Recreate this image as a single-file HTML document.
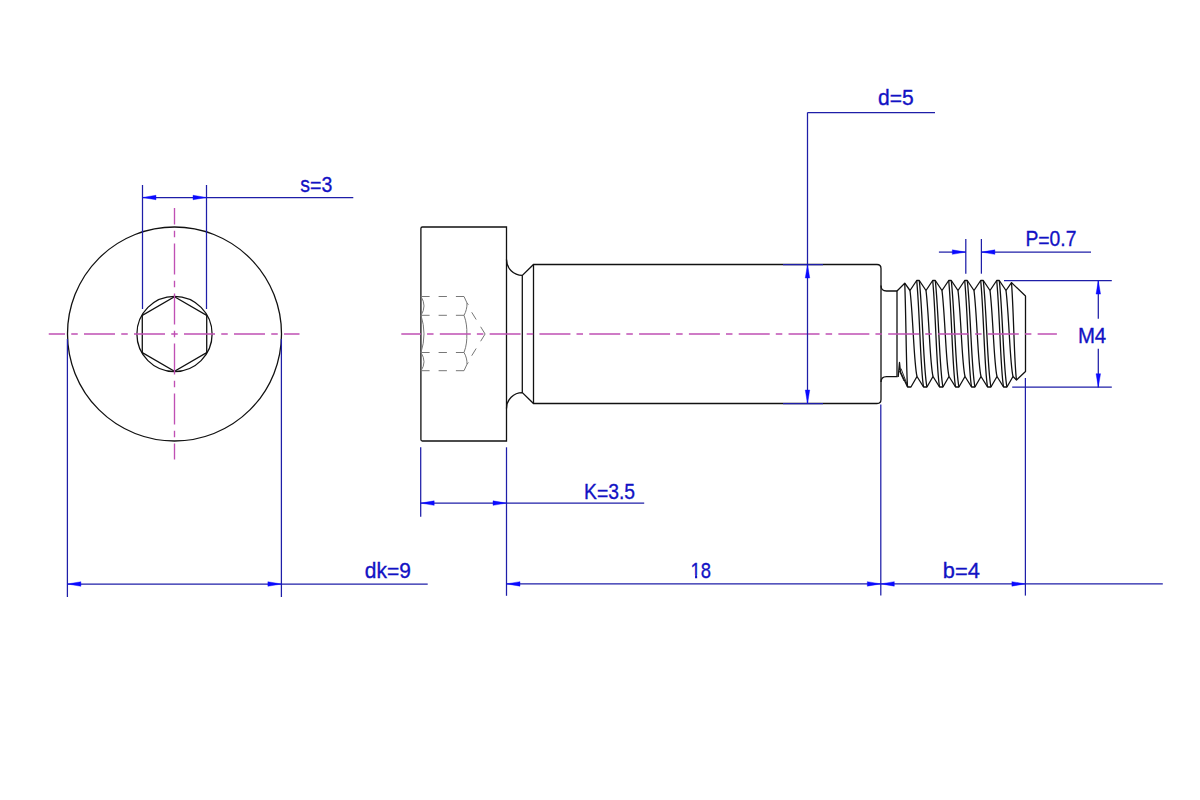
<!DOCTYPE html>
<html><head><meta charset="utf-8"><title>Shoulder Screw Drawing</title>
<style>
html,body{margin:0;padding:0;background:#fff;}
body{width:1200px;height:800px;overflow:hidden;}
svg{display:block;font-family:"Liberation Sans",sans-serif;}
</style></head>
<body>
<svg width="1200" height="800" viewBox="0 0 1200 800">
<rect width="1200" height="800" fill="#fff"/>
<circle cx="174.5" cy="334.0" r="107" fill="none" stroke="#111" stroke-width="1.3"/>
<circle cx="174.5" cy="334.0" r="37.6" fill="none" stroke="#111" stroke-width="1.3"/>
<polygon points="174.50,296.80 206.72,315.40 206.72,352.60 174.50,371.20 142.28,352.60 142.28,315.40" fill="none" stroke="#111" stroke-width="1.3"/>
<path d="M48.75 334.0H65.00 M71.25 334.0H77.75 M84.00 334.0H115.00 M121.25 334.0H127.75 M134.00 334.0H165.00 M171.25 334.0H177.75 M184.00 334.0H215.00 M221.25 334.0H227.75 M234.00 334.0H265.00 M271.25 334.0H277.75 M284.00 334.0H299.50" stroke="#c050b4" stroke-width="1.35" fill="none" />
<path d="M174.5 208.10V224.50 M174.5 230.75V237.25 M174.5 243.50V274.50 M174.5 280.75V287.25 M174.5 293.50V324.50 M174.5 330.75V337.25 M174.5 343.50V374.50 M174.5 380.75V387.25 M174.5 393.50V424.50 M174.5 430.75V437.25 M174.5 443.50V459.40" stroke="#c050b4" stroke-width="1.35" fill="none" />
<line x1="142.5" y1="185" x2="142.5" y2="309" stroke="#1e1ea8" stroke-width="1.25" />
<line x1="206.5" y1="185" x2="206.5" y2="309" stroke="#1e1ea8" stroke-width="1.25" />
<line x1="142.5" y1="197.5" x2="353.3" y2="197.5" stroke="#1e1ea8" stroke-width="1.25" />
<polygon points="142.50,197.50 156.00,195.25 156.00,199.75" fill="#0a0aff" stroke="#0a0aff" stroke-width="0.4"/>
<polygon points="206.50,197.50 193.00,195.25 193.00,199.75" fill="#0a0aff" stroke="#0a0aff" stroke-width="0.4"/>
<text x="300.3" y="191.5" font-size="22.6" fill="#1212c4" stroke="#1212c4" stroke-width="0.35" textLength="32" lengthAdjust="spacingAndGlyphs">s<tspan dy="1.6">=</tspan><tspan dy="-1.6">3</tspan></text>
<line x1="67.4" y1="339" x2="67.4" y2="597" stroke="#1e1ea8" stroke-width="1.25" />
<line x1="281.4" y1="339" x2="281.4" y2="597" stroke="#1e1ea8" stroke-width="1.25" />
<line x1="67.4" y1="584" x2="427.7" y2="584" stroke="#1e1ea8" stroke-width="1.25" />
<polygon points="67.40,584.00 80.90,581.75 80.90,586.25" fill="#0a0aff" stroke="#0a0aff" stroke-width="0.4"/>
<polygon points="281.40,584.00 267.90,581.75 267.90,586.25" fill="#0a0aff" stroke="#0a0aff" stroke-width="0.4"/>
<text x="364.8" y="577.7" font-size="22.6" fill="#1212c4" stroke="#1212c4" stroke-width="0.35" textLength="46" lengthAdjust="spacingAndGlyphs">dk<tspan dy="1.6">=</tspan><tspan dy="-1.6">9</tspan></text>
<path d="M422.4 227 H506.5 V441 H422.4 Q420.9 441 420.9 439.5 V228.5 Q420.9 227 422.4 227 Z" stroke="#111" stroke-width="1.3" fill="none" />
<path d="M506.5 259.6 A15.8 15.8 0 0 0 522.3 275.4 L533.5 264.5 H877 Q881 264.5 881 268.5 V399.5 Q881 403.5 877 403.5 H533.5 L522.3 392.6 A15.8 15.8 0 0 0 506.5 408.4" stroke="#111" stroke-width="1.3" fill="none" />
<line x1="522.3" y1="275.4" x2="522.3" y2="392.6" stroke="#111" stroke-width="1.3" />
<line x1="533.5" y1="264.5" x2="533.5" y2="403.5" stroke="#111" stroke-width="1.3" />
<path d="M881 285.5 Q881 291 886.5 291 H897 V376.6 H886.5 Q881 376.6 881 382" stroke="#111" stroke-width="1.3" fill="none" />
<path d="M897 291 L904.75 283.2 L910 290.5 L916.7 280.5 L919.3 280.5 L926 290.5 L932.7 280.5 L935.3 280.5 L942 290.5 L948.7 280.5 L951.3 280.5 L958 290.5 L964.7 280.5 L967.3 280.5 L974 290.5 L980.7 280.5 L983.3 280.5 L990 290.5 L996.7 280.5 L999.3 280.5 L1006 290.5 L1011.5 282.6 L1025.5 296 V371.5 L1016.5 380 L1013 376.5 L1006.95 387.0 L1003.55 387.0 L997 376.5 L990.95 387.0 L987.55 387.0 L981 376.5 L974.95 387.0 L971.55 387.0 L965 376.5 L958.95 387.0 L955.55 387.0 L949 376.5 L942.95 387.0 L939.55 387.0 L933 376.5 L926.95 387.0 L923.55 387.0 L917 376.5 L910.95 387.0 L907.55 387.0 L900.5 372 L899.5 362.5 L898.2 377" stroke="#111" stroke-width="1.3" fill="none" stroke-linejoin="round"/>
<path d="M901 368.5 L907.9 386.5 M899.4 371 L904 381" stroke="#111" stroke-width="0.9" fill="none" />
<path d="M904.75 283.20 C906.01 314.34 906.29 371.43 907.55 387.00 M916.70 280.50 C919.78 312.45 920.47 371.02 923.55 387.00 M919.30 280.50 C922.74 312.45 923.51 371.02 926.95 387.00 M932.70 280.50 C935.78 312.45 936.47 371.02 939.55 387.00 M935.30 280.50 C938.74 312.45 939.51 371.02 942.95 387.00 M948.70 280.50 C951.78 312.45 952.47 371.02 955.55 387.00 M951.30 280.50 C954.74 312.45 955.51 371.02 958.95 387.00 M964.70 280.50 C967.78 312.45 968.47 371.02 971.55 387.00 M967.30 280.50 C970.74 312.45 971.51 371.02 974.95 387.00 M980.70 280.50 C983.78 312.45 984.47 371.02 987.55 387.00 M983.30 280.50 C986.74 312.45 987.51 371.02 990.95 387.00 M996.70 280.50 C999.78 312.45 1000.47 371.02 1003.55 387.00 M999.30 280.50 C1002.74 312.45 1003.51 371.02 1006.95 387.00 M910.00 290.50 C913.15 316.30 913.85 363.60 917.00 376.50 M926.00 290.50 C929.15 316.30 929.85 363.60 933.00 376.50 M942.00 290.50 C945.15 316.30 945.85 363.60 949.00 376.50 M958.00 290.50 C961.15 316.30 961.85 363.60 965.00 376.50 M974.00 290.50 C977.15 316.30 977.85 363.60 981.00 376.50 M990.00 290.50 C993.15 316.30 993.85 363.60 997.00 376.50 M1006.00 290.50 C1009.15 316.30 1009.85 363.60 1013.00 376.50 M1011.50 282.60 C1013.75 311.82 1014.25 365.39 1016.50 380.00" stroke="#111" stroke-width="1.3" fill="none" />
<line x1="421.3" y1="296.5" x2="464" y2="296.5" stroke="#777" stroke-width="1.0" stroke-dasharray="8.3 9"/>
<line x1="421.3" y1="315.3" x2="464" y2="315.3" stroke="#777" stroke-width="1.0" stroke-dasharray="8.3 9"/>
<line x1="421.3" y1="352.5" x2="464" y2="352.5" stroke="#777" stroke-width="1.0" stroke-dasharray="8.3 9"/>
<line x1="421.3" y1="370.7" x2="464" y2="370.7" stroke="#777" stroke-width="1.0" stroke-dasharray="8.3 9"/>
<path d="M464 296.5 L467 303 C467.2 307 466 312 464 315.3 M467 303 L468.4 304.7 M464 315.3 C466.5 322 467 328 466.8 334 C467 340 466.5 346 464 352.5 M464 352.5 C466 355.8 467.2 360.2 467 364.2 L464 370.7 M467 364.2 L468.4 362.5" stroke="#777" stroke-width="1.0" fill="none" />
<path d="M421 296.5 Q427 306 421 315.3 M421 315.3 Q427 334 421 352.5 M421 352.5 Q427 362 421 370.7" stroke="#777" stroke-width="1.0" fill="none" />
<path d="M485.1 334 L467.4 305.3 M485.1 334 L467.4 362.7" stroke="#777" stroke-width="1.0" fill="none" stroke-dasharray="8.5 8.5"/>
<path d="M401.30 334.0H420.98 M427.05 334.0H433.55 M439.80 334.0H470.80 M476.87 334.0H483.37 M489.62 334.0H520.62 M526.69 334.0H533.19 M539.44 334.0H570.44 M576.51 334.0H583.01 M589.26 334.0H620.26 M626.33 334.0H632.83 M639.08 334.0H670.08 M676.15 334.0H682.65 M688.90 334.0H719.90 M725.97 334.0H732.47 M738.72 334.0H769.72 M775.79 334.0H782.29 M788.54 334.0H819.54 M825.61 334.0H832.11 M838.36 334.0H869.36 M875.43 334.0H881.93 M888.18 334.0H919.18 M925.25 334.0H931.75 M938.00 334.0H969.00 M975.07 334.0H981.57 M987.82 334.0H1018.82 M1024.89 334.0H1031.39 M1037.64 334.0H1056.90" stroke="#c050b4" stroke-width="1.35" fill="none" />
<line x1="807.5" y1="112.6" x2="807.5" y2="403.5" stroke="#1e1ea8" stroke-width="1.25" />
<line x1="807.5" y1="112.6" x2="935" y2="112.6" stroke="#1e1ea8" stroke-width="1.25" />
<line x1="783" y1="264.5" x2="823" y2="264.5" stroke="#1e1ea8" stroke-width="1.25" />
<line x1="783" y1="403.5" x2="823" y2="403.5" stroke="#1e1ea8" stroke-width="1.25" />
<polygon points="807.50,264.50 805.25,278.00 809.75,278.00" fill="#0a0aff" stroke="#0a0aff" stroke-width="0.4"/>
<polygon points="807.50,403.50 805.25,390.00 809.75,390.00" fill="#0a0aff" stroke="#0a0aff" stroke-width="0.4"/>
<text x="878.0" y="104.8" font-size="22.6" fill="#1212c4" stroke="#1212c4" stroke-width="0.35" textLength="35.7" lengthAdjust="spacingAndGlyphs">d<tspan dy="1.6">=</tspan><tspan dy="-1.6">5</tspan></text>
<line x1="420.7" y1="447.3" x2="420.7" y2="516.7" stroke="#1e1ea8" stroke-width="1.25" />
<line x1="506.5" y1="447.3" x2="506.5" y2="595.8" stroke="#1e1ea8" stroke-width="1.25" />
<line x1="420.7" y1="503.1" x2="644.2" y2="503.1" stroke="#1e1ea8" stroke-width="1.25" />
<polygon points="420.70,503.10 434.20,500.85 434.20,505.35" fill="#0a0aff" stroke="#0a0aff" stroke-width="0.4"/>
<polygon points="506.50,503.10 493.00,500.85 493.00,505.35" fill="#0a0aff" stroke="#0a0aff" stroke-width="0.4"/>
<text x="584.0" y="499.4" font-size="22.6" fill="#1212c4" stroke="#1212c4" stroke-width="0.35" textLength="51" lengthAdjust="spacingAndGlyphs">K<tspan dy="1.6">=</tspan><tspan dy="-1.6">3.5</tspan></text>
<line x1="880.8" y1="404.5" x2="880.8" y2="595.6" stroke="#1e1ea8" stroke-width="1.25" />
<line x1="1025.4" y1="378" x2="1025.4" y2="595.6" stroke="#1e1ea8" stroke-width="1.25" />
<line x1="506.5" y1="583.9" x2="1162.8" y2="583.9" stroke="#1e1ea8" stroke-width="1.25" />
<polygon points="506.50,583.90 520.00,581.65 520.00,586.15" fill="#0a0aff" stroke="#0a0aff" stroke-width="0.4"/>
<polygon points="880.80,583.90 867.30,581.65 867.30,586.15" fill="#0a0aff" stroke="#0a0aff" stroke-width="0.4"/>
<polygon points="880.80,583.90 894.30,581.65 894.30,586.15" fill="#0a0aff" stroke="#0a0aff" stroke-width="0.4"/>
<polygon points="1025.40,583.90 1011.90,581.65 1011.90,586.15" fill="#0a0aff" stroke="#0a0aff" stroke-width="0.4"/>
<text x="690.5" y="577.5" font-size="22.6" fill="#1212c4" stroke="#1212c4" stroke-width="0.35" textLength="20.5" lengthAdjust="spacingAndGlyphs">18</text>
<rect x="690.5" y="575.2" width="4.55" height="4" fill="#fff"/><rect x="697.15" y="575.2" width="4.3" height="4" fill="#fff"/>
<text x="942.8" y="577.5" font-size="22.6" fill="#1212c4" stroke="#1212c4" stroke-width="0.35" textLength="37" lengthAdjust="spacingAndGlyphs">b<tspan dy="1.6">=</tspan><tspan dy="-1.6">4</tspan></text>
<line x1="965.8" y1="239" x2="965.8" y2="273.7" stroke="#1e1ea8" stroke-width="1.25" />
<line x1="981.4" y1="239" x2="981.4" y2="273.7" stroke="#1e1ea8" stroke-width="1.25" />
<line x1="938.9" y1="252.1" x2="965.8" y2="252.1" stroke="#1e1ea8" stroke-width="1.25" />
<line x1="981.4" y1="252.1" x2="1091" y2="252.1" stroke="#1e1ea8" stroke-width="1.25" />
<polygon points="965.80,252.10 952.30,249.85 952.30,254.35" fill="#0a0aff" stroke="#0a0aff" stroke-width="0.4"/>
<polygon points="981.40,252.10 994.90,249.85 994.90,254.35" fill="#0a0aff" stroke="#0a0aff" stroke-width="0.4"/>
<text x="1025.4" y="246" font-size="22.6" fill="#1212c4" stroke="#1212c4" stroke-width="0.35" textLength="51" lengthAdjust="spacingAndGlyphs">P<tspan dy="1.6">=</tspan><tspan dy="-1.6">0.7</tspan></text>
<line x1="1004" y1="280.6" x2="1111.8" y2="280.6" stroke="#1e1ea8" stroke-width="1.25" />
<line x1="1012.2" y1="387.2" x2="1111.8" y2="387.2" stroke="#1e1ea8" stroke-width="1.25" />
<line x1="1098.3" y1="280.6" x2="1098.3" y2="318.8" stroke="#1e1ea8" stroke-width="1.25" />
<line x1="1098.3" y1="348.8" x2="1098.3" y2="387.2" stroke="#1e1ea8" stroke-width="1.25" />
<polygon points="1098.30,280.60 1096.05,294.10 1100.55,294.10" fill="#0a0aff" stroke="#0a0aff" stroke-width="0.4"/>
<polygon points="1098.30,387.20 1096.05,373.70 1100.55,373.70" fill="#0a0aff" stroke="#0a0aff" stroke-width="0.4"/>
<text x="1077.9" y="342.6" font-size="22.6" fill="#1212c4" stroke="#1212c4" stroke-width="0.35" textLength="28.3" lengthAdjust="spacingAndGlyphs">M4</text>
</svg>
</body></html>
